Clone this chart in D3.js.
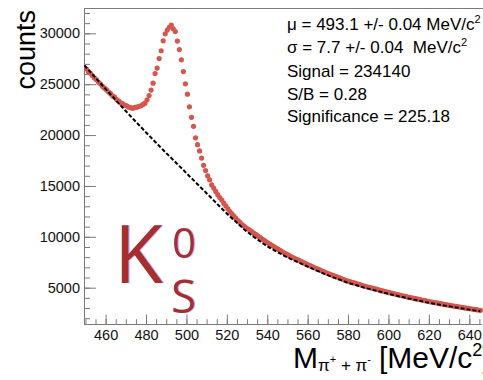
<!DOCTYPE html>
<html>
<head>
<meta charset="utf-8">
<script src="https://cdn.jsdelivr.net/npm/d3@7"></script>
<style>
  html, body { margin: 0; padding: 0; background: #fff; }
  svg { display: block; font-family: "Liberation Sans", Arial, sans-serif; }
</style>
</head>
<body>
<svg id="chart" width="483" height="380"></svg>
<script>
// Invariant mass bins (MeV/c^2), 1 MeV wide, centres 449.5 ... 645.5
const binCenters = d3.range(449.5, 646, 1);

// Signal + background counts per bin (red markers)
const totalCounts = [
  26600, 26480, 26230, 26070, 25830, 25610, 25440, 25190, 25020, 24780,
  24610, 24440, 24230, 24070, 23840, 23720, 23490, 23350, 23160, 23060,
  22930, 22870, 22740, 22690, 22630, 22720, 22740, 22830, 22870, 23010,
  23140, 23460, 23890, 24420, 25100, 26050, 26590, 27520, 28290, 29260,
  29950, 30320, 30600, 30820, 30440, 30170, 29240, 28400, 27400, 26240,
  25040, 24020, 22780, 21740, 20860, 19730, 19060, 18440, 17740, 17030,
  16510, 15990, 15610, 15100, 14790, 14460, 14140, 13860, 13610, 13310,
  13040, 12760, 12490, 12260, 12040, 11810, 11590, 11410, 11210, 11060,
  10890, 10770, 10630, 10490, 10330, 10210, 10050, 9930, 9780, 9660,
  9510, 9380, 9250, 9130, 9010, 8890, 8760, 8650, 8530, 8410,
  8300, 8190, 8090, 7990, 7890, 7795, 7700, 7605, 7510, 7405,
  7310, 7220, 7135, 7045, 6960, 6870, 6790, 6695, 6615, 6525,
  6440, 6360, 6290, 6205, 6135, 6055, 5980, 5900, 5830, 5745,
  5675, 5615, 5550, 5490, 5440, 5375, 5315, 5255, 5190, 5140,
  5080, 5030, 4975, 4925, 4875, 4825, 4760, 4710, 4660, 4610,
  4560, 4505, 4465, 4415, 4375, 4320, 4270, 4230, 4180, 4140,
  4085, 4045, 4005, 3955, 3915, 3870, 3830, 3790, 3750, 3700,
  3660, 3615, 3585, 3545, 3515, 3475, 3430, 3400, 3360, 3330,
  3290, 3255, 3225, 3185, 3155, 3125, 3090, 3060, 3020, 2990,
  2960, 2930, 2895, 2865, 2835, 2805, 2775
];

// Background estimate per bin (black dashed curve)
const backgroundCounts = [
  26850, 26620, 26410, 26180, 25970, 25740, 25530, 25300, 25090, 24860,
  24640, 24420, 24210, 23990, 23780, 23550, 23340, 23120, 22900, 22690,
  22460, 22250, 22040, 21830, 21620, 21410, 21200, 20990, 20780, 20570,
  20360, 20160, 19950, 19750, 19550, 19340, 19140, 18940, 18730, 18530,
  18330, 18130, 17940, 17740, 17540, 17350, 17150, 16950, 16760, 16560,
  16360, 16160, 15960, 15770, 15570, 15370, 15170, 14970, 14780, 14580,
  14380, 14180, 13980, 13780, 13580, 13380, 13180, 12980, 12780, 12580,
  12380, 12190, 12010, 11830, 11650, 11470, 11290, 11110, 10930, 10750,
  10580, 10420, 10270, 10120, 9970, 9830, 9690, 9550, 9410, 9270,
  9130, 9010, 8890, 8780, 8670, 8560, 8450, 8350, 8240, 8130,
  8030, 7930, 7840, 7750, 7660, 7570, 7480, 7390, 7300, 7200,
  7110, 7020, 6940, 6850, 6770, 6680, 6600, 6510, 6430, 6340,
  6260, 6180, 6110, 6030, 5960, 5880, 5810, 5730, 5660, 5580,
  5510, 5450, 5390, 5330, 5280, 5220, 5160, 5100, 5040, 4990,
  4930, 4880, 4830, 4780, 4730, 4680, 4620, 4570, 4520, 4470,
  4420, 4370, 4330, 4280, 4240, 4190, 4140, 4100, 4050, 4010,
  3960, 3920, 3880, 3830, 3790, 3750, 3710, 3670, 3630, 3580,
  3540, 3500, 3470, 3430, 3400, 3360, 3320, 3290, 3250, 3220,
  3180, 3150, 3120, 3080, 3050, 3020, 2990, 2960, 2920, 2890,
  2860, 2830, 2800, 2770, 2740, 2710, 2680
];

const xMajorTicks = [460, 480, 500, 520, 540, 560, 580, 600, 620, 640];
const xMinorTicks = d3.range(450, 646, 5);
const yMajorTicks = [5000, 10000, 15000, 20000, 25000, 30000];
const yMinorTicks = d3.range(2000, 32001, 1000);

// Fit summary lines: [text, superscript]
const statLines = [
  ["\u03bc = 493.1 +/- 0.04 MeV/c", "2"],
  ["\u03c3 = 7.7 +/- 0.04  MeV/c", "2"],
  ["Signal = 234140", ""],
  ["S/B = 0.28", ""],
  ["Significance = 225.18", ""]
];

const svg = d3.select("#chart");
const W = 483, H = 380;
svg.append("rect").attr("width", W).attr("height", H).attr("fill", "#fff");

const defs = svg.append("defs");
const fringe = defs.append("filter").attr("id", "fringe")
  .attr("x", "-10%").attr("y", "-10%").attr("width", "120%").attr("height", "120%");
fringe.append("feDropShadow")
  .attr("dx", 1.2).attr("dy", 0).attr("stdDeviation", 0.4)
  .attr("flood-color", "#6f68d8").attr("flood-opacity", 0.55);

const plot = { left: 84, top: 8, right: 481, bottom: 324 };
const x = d3.scaleLinear().domain([449.3, 645.8]).range([plot.left, plot.right]);
const y = d3.scaleLinear().domain([1430, 32490]).range([plot.bottom, plot.top]);

const axisColor = "#7a7a7a";

// frame top line
svg.append("line")
  .attr("x1", plot.left).attr("x2", W)
  .attr("y1", plot.top + 0.5).attr("y2", plot.top + 0.5)
  .attr("stroke", axisColor).attr("stroke-width", 1);

// K0S label (one text element)
const logo = svg.append("text")
  .attr("font-family", "'Open Sans', 'DejaVu Sans', sans-serif")
  .attr("fill", "#a82f2e")
  .attr("filter", "url(#fringe)")
  .attr("y", 283);
logo.append("tspan").attr("x", 114).attr("font-size", 80).text("K");
logo.append("tspan").attr("x", 172).attr("y", 258).attr("font-size", 42).text("0");
logo.append("tspan").attr("x", 171).attr("y", 313).attr("font-size", 46).text("S");

// Axes
const xAxisMajor = d3.axisBottom(x).tickValues(xMajorTicks).tickSize(-9.5).tickSizeOuter(0).tickPadding(5.5);
const xAxisMinor = d3.axisBottom(x).tickValues(xMinorTicks).tickSize(-4.8).tickSizeOuter(0).tickFormat("");
const yAxisMajor = d3.axisLeft(y).tickValues(yMajorTicks).tickSize(-12).tickSizeOuter(0).tickPadding(4).tickFormat(d3.format("d"));
const yAxisMinor = d3.axisLeft(y).tickValues(yMinorTicks).tickSize(-6).tickSizeOuter(0).tickFormat("");

function styleAxis(g) {
  g.select(".domain").attr("stroke", axisColor);
  g.selectAll(".tick line").attr("stroke", axisColor);
  g.selectAll(".tick text").attr("fill", "#111").attr("font-size", 14.5)
    .attr("font-family", "'Liberation Sans', Arial, sans-serif");
}

svg.append("g").attr("transform", `translate(0,${plot.bottom})`).call(xAxisMinor).call(styleAxis);
svg.append("g").attr("transform", `translate(0,${plot.bottom})`).call(xAxisMajor).call(styleAxis);
svg.append("g").attr("transform", `translate(${plot.left},0)`).call(yAxisMinor).call(styleAxis);
svg.append("g").attr("transform", `translate(${plot.left},0)`).call(yAxisMajor).call(styleAxis);

// Data
svg.append("clipPath").attr("id", "plotClip")
  .append("rect").attr("x", plot.left).attr("y", plot.top)
  .attr("width", W - plot.left).attr("height", plot.bottom - plot.top);

const dataLayer = svg.append("g").attr("clip-path", "url(#plotClip)");

dataLayer.selectAll("circle.total")
  .data(binCenters.map((m, i) => ({ m, v: totalCounts[i] })))
  .join("circle")
  .attr("class", "total")
  .attr("cx", d => x(d.m))
  .attr("cy", d => y(d.v))
  .attr("r", 2.6)
  .attr("fill", "#d5564e");

const bgLine = d3.line()
  .x(m => x(m))
  .y((m, i) => y(backgroundCounts[i]));

dataLayer.append("path")
  .attr("d", bgLine(binCenters))
  .attr("fill", "none")
  .attr("stroke", "#000")
  .attr("stroke-width", 2)
  .attr("stroke-dasharray", "4,2");

// Y title
svg.append("text")
  .attr("transform", "translate(35,10) rotate(-90)")
  .attr("text-anchor", "end")
  .attr("font-size", 27)
  .attr("fill", "#000")
  .text("counts");

// X title: M_{pi+ + pi-} [MeV/c^2]
const xt = svg.append("text").attr("y", 368).attr("fill", "#000").attr("xml:space", "preserve");
xt.append("tspan").attr("x", 293).attr("font-size", 30).text("M");
xt.append("tspan").attr("x", 318).attr("dy", 3).attr("font-size", 17).text("\u03c0");
xt.append("tspan").attr("dy", -8).attr("font-size", 11).text("+");
xt.append("tspan").attr("dy", 8).attr("font-size", 17).text(" + \u03c0");
xt.append("tspan").attr("dy", -8).attr("font-size", 11).text("-");
xt.append("tspan").attr("x", 379).attr("dy", 5).attr("font-size", 30).text("[MeV/c");
xt.append("tspan").attr("dy", -12).attr("font-size", 18).text("2");
xt.append("tspan").attr("dy", 12).attr("font-size", 30).text("]");

// Fit summary
const stats = svg.append("g").attr("font-size", 17).attr("fill", "#000");
const baselines = [29.5, 53, 76.5, 100, 122];
statLines.forEach((ln, i) => {
  const t = stats.append("text").attr("x", 287).attr("y", baselines[i]).attr("xml:space", "preserve");
  t.append("tspan").text(ln[0]);
  if (ln[1]) t.append("tspan").attr("dy", -7).attr("font-size", 11).text(ln[1]);
});
</script>
</body>
</html>
